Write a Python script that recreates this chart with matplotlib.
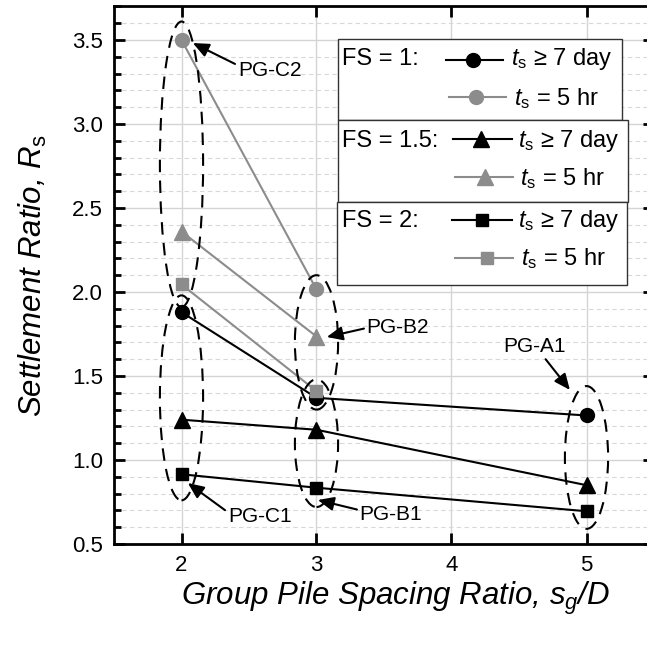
import matplotlib
matplotlib.use("Agg")
import matplotlib.pyplot as plt
from matplotlib.patches import Ellipse, Rectangle
from matplotlib.lines import Line2D

plt.rcParams['font.family'] = ['Liberation Sans', 'DejaVu Sans']
plt.rcParams['mathtext.fontset'] = 'custom'
plt.rcParams['mathtext.rm'] = 'Liberation Sans'
plt.rcParams['mathtext.it'] = 'Liberation Sans:italic'
plt.rcParams['mathtext.bf'] = 'Liberation Sans:bold'

# ---------------- data ----------------
spacing_long = [2, 3, 5]
spacing_short = [2, 3]
fs1_long = [1.88, 1.37, 1.265]
fs1_short = [3.50, 2.015]
fs15_long = [1.24, 1.18, 0.85]
fs15_short = [2.36, 1.735]
fs2_long = [0.915, 0.835, 0.695]
fs2_short = [2.045, 1.41]

x_ticks = [2, 3, 4, 5]
y_ticks = [0.5, 1.0, 1.5, 2.0, 2.5, 3.0, 3.5]

# group labels: (label, x, y_center, height)
groups = [
    ("PG-C2", 2, 2.76, 1.70),
    ("PG-C1", 2, 1.37, 1.22),
    ("PG-B2", 3, 1.70, 0.80),
    ("PG-B1", 3, 1.10, 0.76),
    ("PG-A1", 5, 1.015, 0.85),
]

BLACK = 'black'
GRAY = '#8c8c8c'
GRAYLINE = '#8c8c8c'

fig = plt.figure(figsize=(6.47, 6.48), dpi=100)
# axes pixel extents in 647x648 image
L, R, T, B = 114, 654, 6.4, 544
ax = fig.add_axes([L / 647, (648 - B) / 648, (R - L) / 647, (B - T) / 648])

ax.set_xlim(1.5, 5.5)
ax.set_ylim(0.5, 3.7)
ax.set_xticks(x_ticks)
ax.set_yticks(y_ticks)
ax.set_yticks([0.5 + 0.1 * i for i in range(33)], minor=True)
ax.set_yticklabels([f"{v:.1f}" for v in y_ticks])

ax.grid(True, which='major', color='#d4d4d4', lw=1.0, ls='-', zorder=0)
ax.grid(True, which='minor', axis='y', color='#d8d8d8', lw=0.8, ls=(0, (4, 3)), zorder=0)
ax.set_axisbelow(True)

ax.tick_params(which='major', direction='in', length=8, width=2, top=True, right=True,
               labelsize=16, pad=8, colors='black')
ax.tick_params(which='minor', direction='in', length=5, width=2, left=True, right=True,
               top=False, bottom=False)
for s in ax.spines.values():
    s.set_linewidth(2)

mk = dict(markersize=10)
ax.plot(spacing_long, fs1_long, color=BLACK, lw=1.5, marker='o', zorder=3, **mk)
ax.plot(spacing_long, fs15_long, color=BLACK, lw=1.5, marker='^', zorder=3, markersize=11)
ax.plot(spacing_long, fs2_long, color=BLACK, lw=1.5, marker='s', zorder=3, markersize=9)
ax.plot(spacing_short, fs1_short, color=GRAYLINE, lw=1.5, marker='o', mfc=GRAY, mec=GRAY, zorder=4, **mk)
ax.plot(spacing_short, fs15_short, color=GRAYLINE, lw=1.5, marker='^', mfc=GRAY, mec=GRAY, zorder=4, markersize=11)
ax.plot(spacing_short, fs2_short, color=GRAYLINE, lw=1.5, marker='s', mfc=GRAY, mec=GRAY, zorder=4, markersize=9)

for name, gx, gy, gh in groups:
    e = Ellipse((gx, gy), width=0.32, height=gh, fill=False, ec='black', lw=1.5,
                ls=(0, (6, 4)), zorder=5)
    ax.add_patch(e)

arrow = dict(arrowstyle='-|>,head_length=0.8,head_width=0.35', color='black', lw=1.5,
             mutation_scale=12, shrinkA=0, shrinkB=0)
ann = [
    ("PG-C2", (2.084, 3.482), (2.417, 3.321), (0.0, 0.75)),
    ("PG-B2", (3.076, 1.732), (3.372, 1.786), (0.0, 0.5)),
    ("PG-A1", (4.877, 1.417), (4.38, 1.673), (0.65, 0.0)),
    ("PG-C1", (2.047, 0.863), (2.343, 0.661), (0.0, 0.75)),
    ("PG-B1", (3.010, 0.762), (3.320, 0.673), (0.0, 0.75)),
]
for text, xy, xyt, rp in ann:
    a = dict(arrow)
    a['relpos'] = rp
    ax.annotate(text, xy=xy, xytext=xyt, ha='left', va='center', fontsize=15,
                arrowprops=a, zorder=6)

ax.set_xlabel("Group Pile Spacing Ratio, $s_g$/D", fontsize=22.5, style='italic')
ax.set_ylabel("Settlement Ratio, $R_\\mathrm{s}$", fontsize=22.5, style='italic')
ax.xaxis.set_label_coords((396 - L) / (R - L), -(598 - B) / (B - T))
ax.xaxis.label.set_va('center')
ax.yaxis.set_label_coords(-(114 - 33) / (R - L), 0.5)
ax.yaxis.label.set_va('center')

# ---------- custom legend boxes ----------
def fx(px):
    return (px - L) / (R - L)

def fy(py):
    return (B - py) / (B - T)

boxes = [
    ((338, 39, 622, 120), "FS = 1:", 'o', 10,
     [(60, 65, 446, 503, 473, 511, BLACK, "$t_\\mathrm{s}$ ≥ 7 day"),
      (97, 105, 449, 506, 476, 514, GRAY, "$t_\\mathrm{s}$ = 5 hr")]),
    ((338, 120, 628, 202), "FS = 1.5:", '^', 11,
     [(139, 147, 453, 512, 481, 518, BLACK, "$t_\\mathrm{s}$ ≥ 7 day"),
      (177, 185, 455, 513, 485, 520, GRAY, "$t_\\mathrm{s}$ = 5 hr")]),
    ((337, 202, 627, 285), "FS = 2:", 's', 9,
     [(220, 227, 452, 512, 482, 518, BLACK, "$t_\\mathrm{s}$ ≥ 7 day"),
      (258, 265, 455, 513, 487, 521, GRAY, "$t_\\mathrm{s}$ = 5 hr")]),
]
for (x0, y0, x1, y1), title, marker, ms, rows in boxes:
    ax.add_patch(Rectangle((fx(x0), fy(y1)), fx(x1) - fx(x0), fy(y0) - fy(y1),
                           transform=ax.transAxes, fc='white', ec='#333333', lw=1.0,
                           zorder=7))
    ax.text(fx(342), fy(rows[0][1]), title, transform=ax.transAxes, fontsize=17,
            ha='left', va='baseline', zorder=8)
    for cy, base, lx0, lx1, mx, tx, col, lab in rows:
        ax.add_line(Line2D([fx(lx0), fx(lx1)], [fy(cy), fy(cy)], transform=ax.transAxes,
                           color=col, lw=1.5, zorder=8))
        ax.add_line(Line2D([fx(mx)], [fy(cy)], transform=ax.transAxes, marker=marker,
                           markersize=ms, color=col, mfc=col, mec=col, zorder=9))
        ax.text(fx(tx), fy(base), lab, transform=ax.transAxes, fontsize=17,
                ha='left', va='baseline', zorder=8)

fig.savefig("out.png", dpi=100)
